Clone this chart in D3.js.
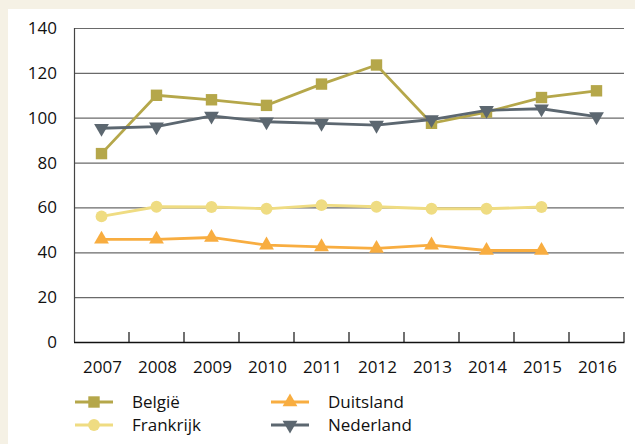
<!DOCTYPE html>
<html>
<head>
<meta charset="utf-8">
<script src="https://cdn.jsdelivr.net/npm/d3@7"></script>
<style>
  body { margin: 0; background: #f5f1e5; }
  svg { display: block; }
  text { font-family: "Open Sans", sans-serif; fill: #111; }
</style>
</head>
<body>
<svg width="635" height="444"></svg>
<script>
var years = ["2007", "2008", "2009", "2010", "2011", "2012", "2013", "2014", "2015", "2016"];
var yTicks = [0, 20, 40, 60, 80, 100, 120, 140];

var belgie     = [84, 110, 108, 105.5, 115, 123.5, 97.5, 102.5, 109, 112];
var frankrijk  = [56, 60.3, 60.2, 59.4, 61, 60.3, 59.4, 59.4, 60.2, null];
var duitsland  = [45.8, 45.8, 46.6, 43.2, 42.4, 41.7, 43.2, 40.8, 40.8, null];
var nederland  = [95.3, 96, 100.8, 98.2, 97.5, 96.7, 99.2, 103.3, 104, 100.5];

var series = [
  {name: "België",    values: belgie,    color: "#b5a74a", symbol: d3.symbolSquare},
  {name: "Duitsland", values: duitsland, color: "#f8ad40", symbol: d3.symbolTriangle},
  {name: "Frankrijk", values: frankrijk, color: "#efdc82", symbol: d3.symbolCircle},
  {name: "Nederland", values: nederland, color: "#5c6770", symbol: "down"}
];

var svg = d3.select("svg");

// white panel
svg.append("rect")
    .attr("x", 8).attr("y", 9)
    .attr("width", 627).attr("height", 435)
    .attr("fill", "#fff");

var margin = {top: 28, left: 74, right: 11, bottom: 102},
    width = 635 - margin.left - margin.right,
    height = 444 - margin.top - margin.bottom,
    g = svg.append("g").attr("transform", "translate(" + margin.left + "," + margin.top + ")");

var x = d3.scaleBand().domain(years).range([0, width]);
var y = d3.scaleLinear().domain([0, 140]).range([height, 0]);

// gridlines
g.append("g")
  .selectAll("line")
  .data(yTicks.slice(1))
  .enter().append("line")
    .attr("x1", 0).attr("x2", width)
    .attr("y1", function(d) { return y(d) + 0.5; })
    .attr("y2", function(d) { return y(d) + 0.5; })
    .attr("stroke", "#6a6a6a")
    .attr("stroke-width", 1.2);

// y labels
g.append("g")
  .selectAll("text")
  .data(yTicks)
  .enter().append("text")
    .attr("x", -17)
    .attr("y", function(d) { return y(d); })
    .attr("dy", "0.35em")
    .attr("text-anchor", "end")
    .style("font-size", "17px")
    .text(function(d) { return d; });

// left axis line
g.append("line")
    .attr("x1", 0.5).attr("x2", 0.5)
    .attr("y1", 0).attr("y2", height)
    .attr("stroke", "#444").attr("stroke-width", 1.2);

// bottom axis with inner ticks at band edges
var edges = years.slice(1).map(function(d) { return x(d); }).concat([width]);
g.append("line")
    .attr("x1", 0).attr("x2", width + 0.5)
    .attr("y1", height + 0.5).attr("y2", height + 0.5)
    .attr("stroke", "#111").attr("stroke-width", 1.3);
g.append("g")
  .selectAll("line")
  .data(edges)
  .enter().append("line")
    .attr("x1", function(d) { return d; })
    .attr("x2", function(d) { return d; })
    .attr("y1", height).attr("y2", height - 10)
    .attr("stroke", "#111").attr("stroke-width", 1.2);

g.append("g")
  .selectAll("text")
  .data(years)
  .enter().append("text")
    .attr("x", function(d) { return x(d) + x.bandwidth() / 2 + 1; })
    .attr("y", height + 25)
    .attr("dy", "0.35em")
    .attr("text-anchor", "middle")
    .style("font-size", "17px")
    .text(function(d) { return d; });

function markerPath(sym) {
  if (sym === "down") return d3.symbol().type(d3.symbolTriangle).size(95)();
  if (sym === d3.symbolSquare) return d3.symbol().type(sym).size(130)();
  if (sym === d3.symbolCircle) return d3.symbol().type(sym).size(110)();
  return d3.symbol().type(sym).size(95)();
}

var line = d3.line()
    .defined(function(d) { return d != null; })
    .x(function(d, i) { return x(years[i]) + x.bandwidth() / 2; })
    .y(function(d) { return y(d); });

series.forEach(function(s) {
  var sg = g.append("g");
  sg.append("path")
      .attr("d", line(s.values))
      .attr("fill", "none")
      .attr("stroke", s.color)
      .attr("stroke-width", 2.8);
  sg.selectAll("path.m")
    .data(s.values.map(function(v, i) { return {v: v, i: i}; }).filter(function(d) { return d.v != null; }))
    .enter().append("path")
      .attr("class", "m")
      .attr("d", markerPath(s.symbol))
      .attr("fill", s.color)
      .attr("transform", function(d) {
        var t = "translate(" + (x(years[d.i]) + x.bandwidth() / 2) + "," + y(d.v) + ")";
        return s.symbol === "down" ? t + " rotate(180)" : t;
      });
});

// legend
var legendPos = [
  {s: series[0], lx: 75, ly: 402},
  {s: series[2], lx: 75, ly: 425},
  {s: series[1], lx: 271, ly: 402},
  {s: series[3], lx: 271, ly: 425}
];

var legend = svg.append("g")
  .selectAll("g")
  .data(legendPos)
  .enter().append("g")
    .attr("transform", function(d) { return "translate(" + d.lx + "," + d.ly + ")"; });

legend.append("line")
    .attr("x1", 0).attr("x2", 38)
    .attr("stroke", function(d) { return d.s.color; })
    .attr("stroke-width", 2.8);

legend.append("path")
    .attr("d", function(d) { return markerPath(d.s.symbol); })
    .attr("fill", function(d) { return d.s.color; })
    .attr("transform", function(d) { return "translate(19,0)" + (d.s.symbol === "down" ? " rotate(180)" : ""); });

legend.append("text")
    .attr("x", 57)
    .attr("dy", "0.35em")
    .style("font-size", "17px")
    .text(function(d) { return d.s.name; });
</script>
</body>
</html>
